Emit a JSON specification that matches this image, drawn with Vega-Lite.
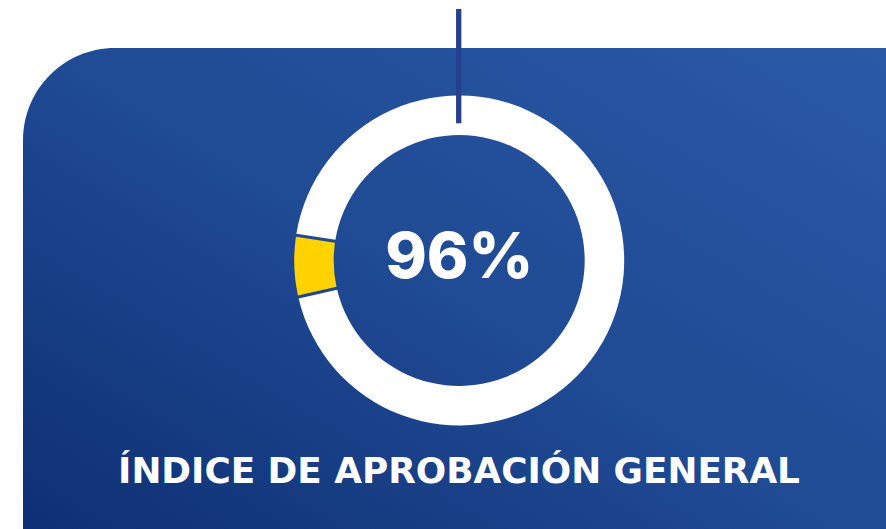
{
  "$schema": "https://vega.github.io/schema/vega-lite/v6.json",
  "width": 886,
  "height": 529,
  "autosize": "none",
  "padding": 0,
  "background": "#ffffff",
  "config": {"view": {"stroke": null}},
  "datasets": {
    "donut": [
      {"segmento": "Aprobación", "valor": 94, "orden": 1},
      {"segmento": "Resto", "valor": 6, "orden": 2}
    ],
    "indice": [{"etiqueta": "96%"}],
    "titulo": [{"texto": "ÍNDICE DE APROBACIÓN GENERAL"}]
  },
  "layer": [
    {
      "data": {"values": [{"panel": "fondo"}]},
      "mark": {
        "type": "rect",
        "cornerRadius": 92,
        "clip": true,
        "fill": {
          "gradient": "linear",
          "x1": 0, "y1": 1, "x2": 1, "y2": 0,
          "stops": [
            {"offset": 0, "color": "#0b2a6c"},
            {"offset": 0.5, "color": "#1f4a94"},
            {"offset": 1, "color": "#2b5ba8"}
          ]
        }
      },
      "encoding": {
        "x": {"datum": 23, "type": "quantitative", "scale": {"domain": [0, 886], "nice": false, "zero": false}, "axis": null},
        "x2": {"datum": 980},
        "y": {"datum": 48, "type": "quantitative", "scale": {"domain": [0, 529], "nice": false, "zero": false, "reverse": true}, "axis": null},
        "y2": {"datum": 625}
      }
    },
    {
      "data": {"name": "donut"},
      "mark": {"type": "arc", "outerRadius": 165, "innerRadius": 125.5, "padAngle": 0.0145},
      "encoding": {
        "x": {"datum": 459.2, "type": "quantitative"},
        "y": {"datum": 260.5, "type": "quantitative"},
        "theta": {"field": "valor", "type": "quantitative", "stack": true, "scale": {"range": [-1.4172, 4.8660]}},
        "color": {"field": "segmento", "type": "nominal", "scale": {"domain": ["Aprobación", "Resto"], "range": ["#ffffff", "#ffd200"]}, "legend": null},
        "order": {"field": "orden", "type": "quantitative"}
      }
    },
    {
      "data": {"values": [{"linea": "indicador"}]},
      "mark": {"type": "rule", "strokeWidth": 5.3, "color": "#263f8e"},
      "encoding": {
        "x": {"datum": 458.7, "type": "quantitative"},
        "y": {"datum": 9, "type": "quantitative"},
        "y2": {"datum": 123.3}
      }
    },
    {
      "data": {"name": "indice"},
      "mark": {"type": "text", "font": "Inter", "fontWeight": 800, "fontSize": 63, "color": "#ffffff", "align": "center", "baseline": "alphabetic"},
      "encoding": {
        "x": {"datum": 459.3, "type": "quantitative"},
        "y": {"datum": 278.3, "type": "quantitative"},
        "text": {"field": "etiqueta"}
      }
    },
    {
      "data": {"name": "titulo"},
      "mark": {"type": "text", "font": "DejaVu Sans", "fontWeight": "bold", "fontSize": 35.8, "color": "#ffffff", "align": "center", "baseline": "alphabetic"},
      "encoding": {
        "x": {"datum": 459, "type": "quantitative"},
        "y": {"datum": 483.3, "type": "quantitative"},
        "text": {"field": "texto"}
      }
    }
  ]
}
